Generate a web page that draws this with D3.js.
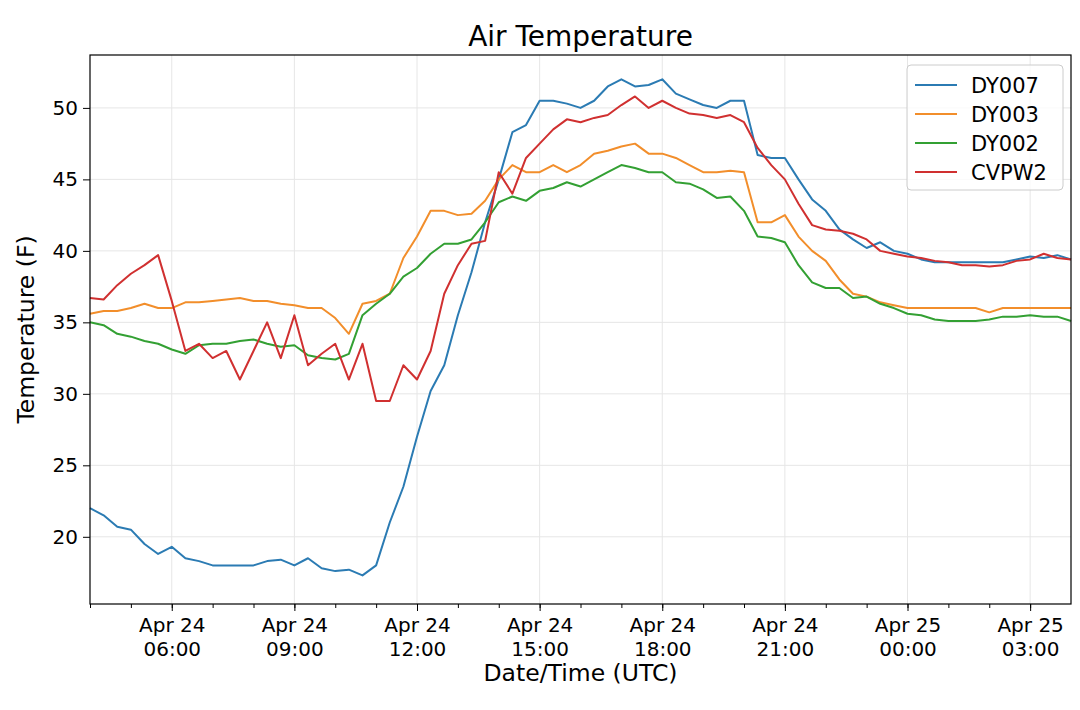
<!DOCTYPE html>
<html>
<head>
<meta charset="utf-8">
<script src="https://cdn.jsdelivr.net/npm/d3@7"></script>
<style>
  body { margin: 0; background: #fff; }
  text { font-family: "DejaVu Sans", sans-serif; }
</style>
</head>
<body>
<div id="graph-container"></div>
<script>
// Readings every 20 minutes from Apr 24 04:00 UTC to Apr 25 04:00 UTC
const startTime = Date.UTC(2019, 3, 24, 4, 0);
const stepMinutes = 20;

const dy007 = [22.0, 21.5, 20.7, 20.5, 19.5, 18.8, 19.3, 18.5, 18.3, 18.0, 18.0, 18.0,
  18.0, 18.3, 18.4, 18.0, 18.5, 17.8, 17.6, 17.7, 17.3, 18.0, 21.0, 23.5,
  27.0, 30.2, 32.0, 35.5, 38.5, 42.0, 45.0, 48.3, 48.8, 50.5, 50.5, 50.3,
  50.0, 50.5, 51.5, 52.0, 51.5, 51.6, 52.0, 51.0, 50.6, 50.2, 50.0, 50.5,
  50.5, 46.7, 46.5, 46.5, 45.0, 43.6, 42.8, 41.5, 40.8, 40.2, 40.6, 40.0,
  39.8, 39.4, 39.2, 39.2, 39.2, 39.2, 39.2, 39.2, 39.4, 39.6, 39.5, 39.7, 39.4];
const dy003 = [35.6, 35.8, 35.8, 36.0, 36.3, 36.0, 36.0, 36.4, 36.4, 36.5, 36.6, 36.7,
  36.5, 36.5, 36.3, 36.2, 36.0, 36.0, 35.3, 34.2, 36.3, 36.5, 37.0, 39.5,
  41.0, 42.8, 42.8, 42.5, 42.6, 43.5, 45.0, 46.0, 45.5, 45.5, 46.0, 45.5,
  46.0, 46.8, 47.0, 47.3, 47.5, 46.8, 46.8, 46.5, 46.0, 45.5, 45.5, 45.6,
  45.5, 42.0, 42.0, 42.5, 41.0, 40.0, 39.3, 38.0, 37.0, 36.8, 36.4, 36.2,
  36.0, 36.0, 36.0, 36.0, 36.0, 36.0, 35.7, 36.0, 36.0, 36.0, 36.0, 36.0, 36.0];
const dy002 = [35.0, 34.8, 34.2, 34.0, 33.7, 33.5, 33.1, 32.8, 33.4, 33.5, 33.5, 33.7,
  33.8, 33.5, 33.3, 33.4, 32.7, 32.5, 32.4, 32.8, 35.5, 36.3, 37.0, 38.2,
  38.8, 39.8, 40.5, 40.5, 40.8, 42.0, 43.4, 43.8, 43.5, 44.2, 44.4, 44.8,
  44.5, 45.0, 45.5, 46.0, 45.8, 45.5, 45.5, 44.8, 44.7, 44.3, 43.7, 43.8,
  42.8, 41.0, 40.9, 40.6, 39.0, 37.8, 37.4, 37.4, 36.7, 36.8, 36.3, 36.0,
  35.6, 35.5, 35.2, 35.1, 35.1, 35.1, 35.2, 35.4, 35.4, 35.5, 35.4, 35.4, 35.1];
const cvpw2 = [36.7, 36.6, 37.6, 38.4, 39.0, 39.7, 36.5, 33.0, 33.5, 32.5, 33.0, 31.0,
  33.0, 35.0, 32.5, 35.5, 32.0, 32.8, 33.5, 31.0, 33.5, 29.5, 29.5, 32.0,
  31.0, 33.0, 37.0, 39.0, 40.5, 40.7, 45.5, 44.0, 46.5, 47.5, 48.5, 49.2,
  49.0, 49.3, 49.5, 50.2, 50.8, 50.0, 50.5, 50.0, 49.6, 49.5, 49.3, 49.5,
  49.0, 47.2, 46.0, 45.0, 43.3, 41.8, 41.5, 41.4, 41.2, 40.8, 40.0, 39.8,
  39.6, 39.5, 39.3, 39.2, 39.0, 39.0, 38.9, 39.0, 39.3, 39.4, 39.8, 39.5, 39.4];

const seriesNames = ["DY007", "DY003", "DY002", "CVPW2"];
const seriesValues = [dy007, dy003, dy002, cvpw2];
const colors = ["#2b7bb3", "#f28e2b", "#33a033", "#d03030"];
const yTicks = [20, 25, 30, 35, 40, 45, 50];

const margin = { top: 55, right: 9, bottom: 106, left: 90 };
const width = 1080 - margin.left - margin.right;
const height = 710 - margin.top - margin.bottom;

const timeAt = i => new Date(startTime + i * stepMinutes * 60000);

const x = d3.scaleUtc()
    .domain([timeAt(0), timeAt(dy007.length - 1)])
    .range([0, width]);

const y = d3.scaleLinear()
    .domain([15.3, 53.7])
    .range([height, 0]);

const svg = d3.select("#graph-container")
    .append("svg")
        .attr("width", 1080)
        .attr("height", 710)
    .append("g")
        .attr("transform", `translate(${margin.left},${margin.top})`);

const majorTicks = d3.utcHour.every(3).range(x.domain()[0], x.domain()[1])
    .filter(d => d.getUTCHours() % 3 === 0 && d > x.domain()[0]);
const minorTicks = d3.utcHour.range(x.domain()[0], x.domain()[1]);

// Grid
svg.append("g").selectAll("line.gx")
    .data(majorTicks)
    .join("line")
        .attr("x1", d => x(d)).attr("x2", d => x(d))
        .attr("y1", 0).attr("y2", height)
        .attr("stroke", "#e6e6e6");
svg.append("g").selectAll("line.gy")
    .data(yTicks)
    .join("line")
        .attr("x1", 0).attr("x2", width)
        .attr("y1", d => y(d)).attr("y2", d => y(d))
        .attr("stroke", "#e6e6e6");

// Lines
const line = d3.line()
    .x((d, i) => x(timeAt(i)))
    .y(d => y(d));

seriesValues.forEach((vals, k) => {
    svg.append("path")
        .datum(vals)
        .attr("fill", "none")
        .attr("stroke", colors[k])
        .attr("stroke-width", 2)
        .attr("stroke-linejoin", "round")
        .attr("d", line);
});

// Axes
const fmtDay = d3.utcFormat("%b %d");
const fmtTime = d3.utcFormat("%H:%M");

const xAxis = svg.append("g")
    .attr("transform", `translate(0,${height})`)
    .call(d3.axisBottom(x).tickValues(minorTicks).tickSize(4).tickFormat(""));
xAxis.select(".domain").remove();

const xMajor = svg.append("g")
    .attr("transform", `translate(0,${height})`)
    .call(d3.axisBottom(x).tickValues(majorTicks).tickSize(7).tickFormat(""));
xMajor.select(".domain").remove();
xMajor.selectAll(".tick").each(function(d) {
    const t = d3.select(this).append("text")
        .attr("fill", "#000")
        .attr("font-size", 20)
        .attr("text-anchor", "middle");
    t.append("tspan").attr("x", 0).attr("y", 28).text(fmtDay(d));
    t.append("tspan").attr("x", 0).attr("y", 52).text(fmtTime(d));
});

const yAxis = svg.append("g")
    .call(d3.axisLeft(y).tickValues(yTicks).tickSize(7).tickPadding(5));
yAxis.select(".domain").remove();
yAxis.selectAll("text").attr("font-size", 20).attr("fill", "#000");

// Frame
svg.append("rect")
    .attr("width", width).attr("height", height)
    .attr("fill", "none").attr("stroke", "#000").attr("stroke-width", 1.2);

// Titles
svg.append("text")
    .attr("x", width / 2).attr("y", -9)
    .attr("text-anchor", "middle")
    .attr("font-size", 28)
    .text("Air Temperature");

svg.append("text")
    .attr("x", width / 2).attr("y", height + 77)
    .attr("text-anchor", "middle")
    .attr("font-size", 23.5)
    .text("Date/Time (UTC)");

svg.append("text")
    .attr("transform", `translate(-56,${height / 2}) rotate(-90)`)
    .attr("text-anchor", "middle")
    .attr("font-size", 23.5)
    .text("Temperature (F)");

// Legend
const legend = svg.append("g")
    .attr("transform", `translate(${width - 164},10)`);
legend.append("rect")
    .attr("width", 156).attr("height", 125)
    .attr("rx", 4)
    .attr("fill", "#fff").attr("fill-opacity", 0.8)
    .attr("stroke", "#ccc");
seriesNames.forEach((name, k) => {
    const g = legend.append("g").attr("transform", `translate(0,${20 + k * 29})`);
    g.append("line")
        .attr("x1", 8).attr("x2", 50)
        .attr("stroke", colors[k]).attr("stroke-width", 2);
    g.append("text")
        .attr("x", 64).attr("y", 8)
        .attr("font-size", 21)
        .text(name);
});
</script>
</body>
</html>
